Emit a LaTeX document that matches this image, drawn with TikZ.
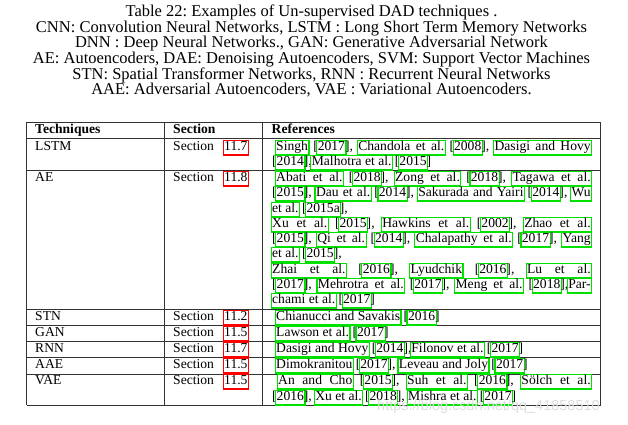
\documentclass[tikz,border=0pt]{standalone}
\usepackage{fontspec}
\setmainfont{Liberation Serif}
\newfontfamily\wmfont{Liberation Sans}
\definecolor{linkgreen}{RGB}{0,225,0}
\definecolor{linkred}{RGB}{255,0,0}
\frenchspacing
% framed link box that does not change the width of the text
\newcommand\lnk[2]{{\setbox0=\hbox{#2}%
\rlap{\kern-1.6pt\color{#1}\fboxsep=0pt\fboxrule=1.2pt\fbox{\rule[-4.4pt]{0pt}{13.6pt}\kern\dimexpr\wd0+0.8pt\relax}}\box0}}
\newcommand\gl[1]{\lnk{linkgreen}{#1}}
\newcommand\rl[1]{\lnk{linkred}{#1}}
% justified line: width, number of spaces, content
\newcommand\jl[3]{\setbox2=\hbox{#3}%
\dimen2=\dimexpr(#1-\wd2)/#2+\fontdimen2\font\relax
{\spaceskip=\dimen2\relax\hbox to #1{#3\hss}}}
\begin{document}
\begin{tikzpicture}[x=1pt,y=-1pt,
  captxt/.style={anchor=base,inner sep=0pt,font=\fontsize{16.5}{16}\selectfont},
  cell/.style={anchor=base west,inner sep=0pt,font=\fontsize{13.6}{15}\selectfont},
  hd/.style={anchor=base west,inner sep=0pt,font=\fontsize{13.6}{15}\selectfont\bfseries},
  tabrule/.style={line width=0.9pt,black!80},
  wm/.style={anchor=base west,inner sep=0pt,text=black!13,font=\wmfont\fontsize{14.5}{15}\selectfont}]
\useasboundingbox[fill=white] (0,0) rectangle (628,424);
% caption
\node[captxt] (c1) at (311.5,16.5) {Table 22: Examples of Un-supervised DAD techniques .};
\node[captxt] (c2) at (311.5,32) {CNN: Convolution Neural Networks, LSTM : Long Short Term Memory Networks};
\node[captxt] (c3) at (311.5,47.5) {DNN : Deep Neural Networks., GAN: Generative Adversarial Network};
\node[captxt] (c4) at (311.5,63) {AE: Autoencoders, DAE: Denoising Autoencoders, SVM: Support Vector Machines};
\node[captxt] (c5) at (311.5,79) {STN: Spatial Transformer Networks, RNN : Recurrent Neural Networks};
\node[captxt] (c6) at (311.5,94.5) {AAE: Adversarial Autoencoders, VAE : Variational Autoencoders.};
% table rules
\foreach \yy in {122.3,138.5,170.7,309.3,325,341.7,357.7,374,405}
  \draw[tabrule] (26.7,\yy) -- (600.7,\yy);
\foreach \xx in {26.7,164.3,262.3,600.7}
  \draw[tabrule] (\xx,122.3) -- (\xx,405);
% header
\node[hd] (h1) at (35,133) {Techniques};
\node[hd] (h2) at (173,133) {Section};
\node[hd] (h3) at (271.5,133) {References};
% column 1
\node[cell] (t1) at (35,150) {LSTM};
\node[cell] (t2) at (35,181) {AE};
\node[cell] (t3) at (35,320) {STN};
\node[cell] (t4) at (35,336) {GAN};
\node[cell] (t5) at (35,352) {RNN};
\node[cell] (t6) at (35,368) {AAE};
\node[cell] (t7) at (35,384) {VAE};
% column 2
\foreach \yy/\nn/\id in {150/11.7/1,181/11.8/2,320/11.2/3,336/11.5/4,352/11.7/5,368/11.5/6,384/11.5/7}{
  \node[cell] (s\id) at (173,\yy) {Section};
  \node[cell] (n\id) at (224,\yy) {\rl{\nn}};
}
% column 3
\node[cell] (r1a) at (276,150) {\jl{314.5pt}{8}{\gl{Singh} [\gl{2017}], \gl{Chandola et al.} [\gl{2008}], \gl{Dasigi and Hovy}}};
\node[cell] (r1b) at (272,165) {[\gl{2014}],\gl{Malhotra et al.} [\gl{2015}]};
\node[cell] (r2a) at (276,181) {\jl{314.5pt}{10}{\gl{Abati et al.} [\gl{2018}], \gl{Zong et al.} [\gl{2018}], \gl{Tagawa et al.}}};
\node[cell] (r2b) at (272,196) {\jl{318.5pt}{9}{[\gl{2015}], \gl{Dau et al.} [\gl{2014}], \gl{Sakurada and Yairi} [\gl{2014}], \gl{Wu}}};
\node[cell] (r2c) at (272,212) {\gl{et al.} [\gl{2015a}],};
\node[cell] (r2d) at (272,227) {\jl{318.5pt}{10}{\gl{Xu et al.} [\gl{2015}], \gl{Hawkins et al.} [\gl{2002}], \gl{Zhao et al.}}};
\node[cell] (r2e) at (272,242) {\jl{318.5pt}{9}{[\gl{2015}], \gl{Qi et al.} [\gl{2014}], \gl{Chalapathy et al.} [\gl{2017}], \gl{Yang}}};
\node[cell] (r2f) at (272,257) {\gl{et al.} [\gl{2015}],};
\node[cell] (r2g) at (272,273) {\jl{318.5pt}{8}{\gl{Zhai et al.} [\gl{2016}], \gl{Lyudchik} [\gl{2016}], \gl{Lu et al.}}};
\node[cell] (r2h) at (272,288) {\jl{318.5pt}{8}{[\gl{2017}], \gl{Mehrotra et al.} [\gl{2017}], \gl{Meng et al.} [\gl{2018}],\gl{Par-}}};
\node[cell] (r2i) at (272,303) {\gl{chami et al.} [\gl{2017}]};
\node[cell] (r3) at (276,320) {\gl{Chianucci and Savakis} [\gl{2016}]};
\node[cell] (r4) at (276,336) {\gl{Lawson et al.} [\gl{2017}]};
\node[cell] (r5) at (276,352) {\gl{Dasigi and Hovy} [\gl{2014}],\gl{Filonov et al.} [\gl{2017}]};
\node[cell] (r6) at (276,368) {\gl{Dimokranitou} [\gl{2017}], \gl{Leveau and Joly} [\gl{2017}]};
\node[cell] (r7a) at (278,384) {\jl{312.5pt}{10}{\gl{An and Cho} [\gl{2015}], \gl{Suh et al.} [\gl{2016}], \gl{Sölch et al.}}};
\node[cell] (r7b) at (272,400) {[\gl{2016}], \gl{Xu et al.} [\gl{2018}], \gl{Mishra et al.} [\gl{2017}]};
% watermark
\node[wm] (wmk) at (377,410) {https://blog.csdn.net/qq\_41858510};
\end{tikzpicture}
\end{document}
